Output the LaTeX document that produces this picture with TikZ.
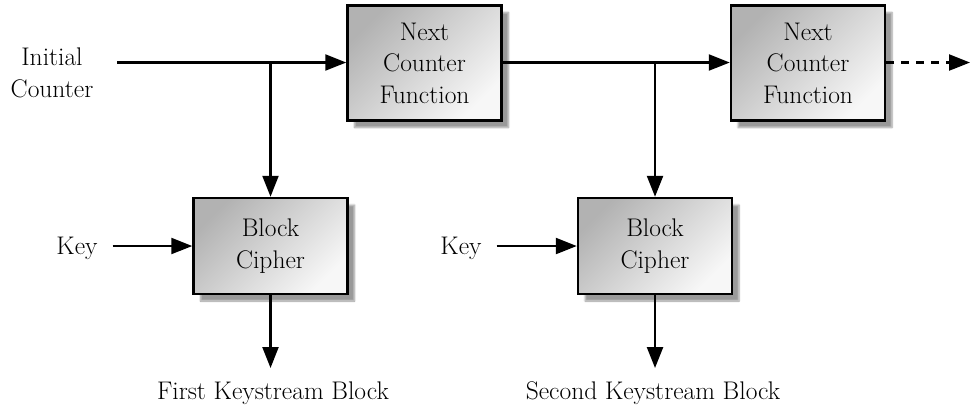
\documentclass[tikz,border=0pt]{standalone}
\usetikzlibrary{arrows.meta,shadows.blur}
\tikzset{
  box/.style={draw=black, line width=2.5pt, inner sep=0pt, align=center,
    shading=axis, top color=black!30, bottom color=white!97!black, shading angle=45,
    blur shadow={shadow xshift=7pt, shadow yshift=-7pt, shadow blur steps=6, shadow opacity=40},
    font=\rmfamily\fontsize{25.5}{31.5}\selectfont},
  ncf/.style={box, minimum width=154pt, minimum height=115pt},
  bcbox/.style={box, minimum width=154pt, minimum height=96pt},
  lbl/.style={align=center, inner sep=0pt, font=\rmfamily\fontsize{25.5}{32}\selectfont},
  conn/.style={line width=2.4pt},
  arr/.style={conn, -{Triangle[length=21pt,width=16pt]}}
}
\begin{document}
\begin{tikzpicture}[x=1pt,y=-1pt]
\useasboundingbox (0,0) rectangle (971,408);
% boxes
\node[ncf] (nf1) at (424.5,63) {Next\\Counter\\Function};
\node[ncf] (nf2) at (808,63) {Next\\Counter\\Function};
\node[bcbox] (bc1) at (270.5,246) {Block\\Cipher};
\node[bcbox] (bc2) at (655,246) {Block\\Cipher};
% labels
\node[lbl] (ic) at (52,73) {Initial\\Counter};
\node[lbl, anchor=base] (key1) at (77,254) {Key};
\node[lbl, anchor=base] (key2) at (461,254) {Key};
\node[lbl] (out1) at (273,393) {First Keystream Block};
\node[lbl] (out2) at (653,393) {Second Keystream Block};
% coordinates
\coordinate (start) at (117,62.5);
\coordinate (br1) at (270.5,62.5);
\coordinate (br2) at (655,62.5);
\coordinate (o1) at (270.5,368);
\coordinate (o2) at (655,368);
\coordinate (dend) at (970,62.5);
% connectors
\draw[arr] (start) -- (nf1.west |- start);
\draw[arr] (br1) -- (bc1.north);
\draw[conn] (nf1.east |- br2) -- (br2);
\draw[arr] (br2) -- (nf2.west |- br2);
\draw[arr] (br2) -- (bc2.north);
\draw[arr, dash pattern=on 8pt off 7pt] (nf2.east |- dend) -- (dend);
\draw[arr, shorten <=15pt] (key1.east |- bc1) -- (bc1.west);
\draw[arr, shorten <=15pt] (key2.east |- bc2) -- (bc2.west);
\draw[arr] (bc1.south) -- (o1);
\draw[arr] (bc2.south) -- (o2);
\end{tikzpicture}
\end{document}
